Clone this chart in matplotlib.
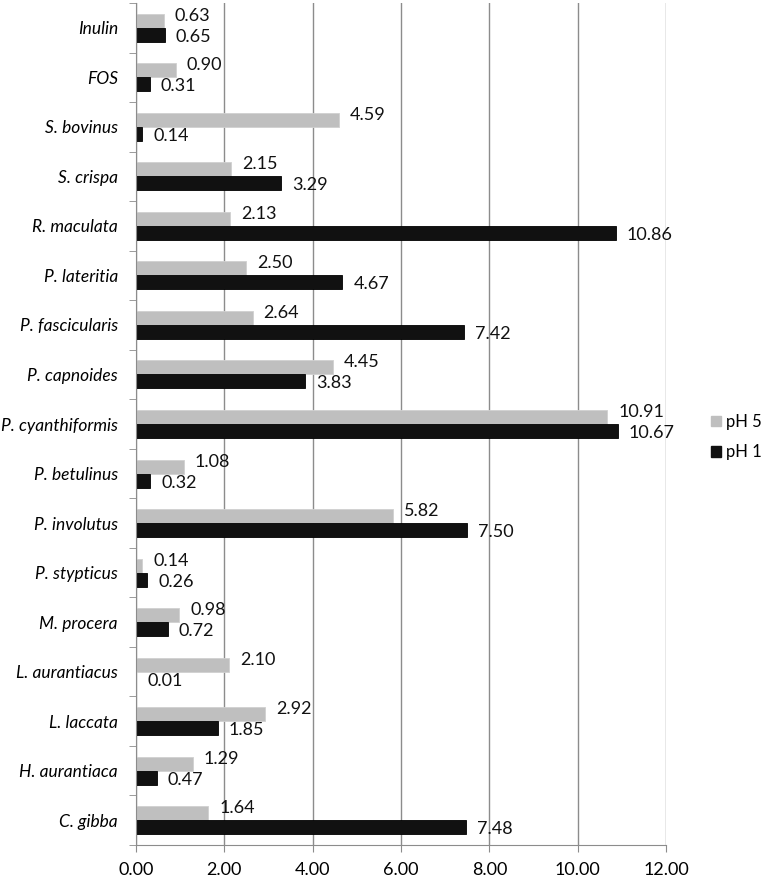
import matplotlib
matplotlib.use("Agg")
from matplotlib import pyplot as plt
from matplotlib.patches import Patch
import numpy as np

plt.rcParams['font.family'] = ['Lato', 'DejaVu Sans']

categorias = ["Inulin", "FOS", "S. bovinus", "S. crispa", "R. maculata", "P. lateritia",
              "P. fascicularis", "P. capnoides", "P. cyanthiformis", "P. betulinus",
              "P. involutus", "P. stypticus", "M. procera", "L. aurantiacus",
              "L. laccata", "H. aurantiaca", "C. gibba"]

ph5 = [0.63, 0.90, 4.59, 2.15, 2.13, 2.50, 2.64, 4.45, 10.67, 1.08, 5.82, 0.14, 0.98, 2.10, 2.92, 1.29, 1.64]
ph1 = [0.65, 0.31, 0.14, 3.29, 10.86, 4.67, 7.42, 3.83, 10.91, 0.32, 7.50, 0.26, 0.72, 0.01, 1.85, 0.47, 7.48]

# etiquetas tal como aparecen en la figura (P. cyanthiformis viene cruzada)
etiquetas_ph5 = ["0.63", "0.90", "4.59", "2.15", "2.13", "2.50", "2.64", "4.45", "10.91", "1.08",
                 "5.82", "0.14", "0.98", "2.10", "2.92", "1.29", "1.64"]
etiquetas_ph1 = ["0.65", "0.31", "0.14", "3.29", "10.86", "4.67", "7.42", "3.83", "10.67", "0.32",
                 "7.50", "0.26", "0.72", "0.01", "1.85", "0.47", "7.48"]

color_ph5 = "#bfbfbf"
color_ph1 = "#111111"
color_eje = "#8c8c8c"
tam = 13

fig = plt.figure(figsize=(7.65, 8.8), dpi=100)
ax = fig.add_axes([136 / 765, 35 / 880, 530 / 765, 842 / 880])

n = len(categorias)
y = np.arange(n)
alto = 0.283

ax.barh(y - alto / 2, ph5, height=alto, color=color_ph5, edgecolor="#d0d0d0", linewidth=0.6, zorder=3)
ax.barh(y + alto / 2, ph1, height=alto, color=color_ph1, edgecolor="#000000", linewidth=0.6, zorder=3)

for i in range(n):
    ax.annotate(etiquetas_ph5[i], (ph5[i], y[i] - alto / 2), xytext=(11, 5), textcoords="offset pixels",
                ha="left", va="center", fontsize=tam, color="#111111")
    ax.annotate(etiquetas_ph1[i], (ph1[i], y[i] + alto / 2), xytext=(11, -2), textcoords="offset pixels",
                ha="left", va="center", fontsize=tam, color="#111111")

ax.set_xlim(0, 12)
ax.set_ylim(n - 0.5, -0.5)
ax.set_xticks(np.arange(0, 13, 2))
ax.set_xticklabels(["%.2f" % v for v in np.arange(0, 13, 2)], fontsize=tam)
ax.set_yticks(y)
ax.set_yticklabels(categorias, fontsize=12.5, style="italic")
ax.set_yticks(np.arange(n + 1) - 0.5, minor=True)
ax.tick_params(axis="y", which="major", length=0, pad=13)
ax.tick_params(axis="y", which="minor", length=5, color=color_eje, direction="out")
ax.tick_params(axis="x", length=5, color=color_eje, direction="out", pad=7)

ax.grid(axis="x", color=color_eje, linewidth=1.0, zorder=0)
for lado in ["top", "right"]:
    ax.spines[lado].set_visible(False)
ax.spines["left"].set_color(color_eje)
ax.spines["bottom"].set_color(color_eje)
ax.spines["left"].set_zorder(4)

manijas = [Patch(facecolor=color_ph5, edgecolor=color_ph5), Patch(facecolor=color_ph1, edgecolor=color_ph1)]
fig.legend(manijas, ["pH 5", "pH 1"], loc="center left", bbox_to_anchor=(711 / 765, 0.5034),
           frameon=False, fontsize=12, handlelength=0.6, handleheight=0.6,
           handletextpad=0.3, labelspacing=0.85, borderaxespad=0, borderpad=0)

fig.savefig("out.png", dpi=100)
